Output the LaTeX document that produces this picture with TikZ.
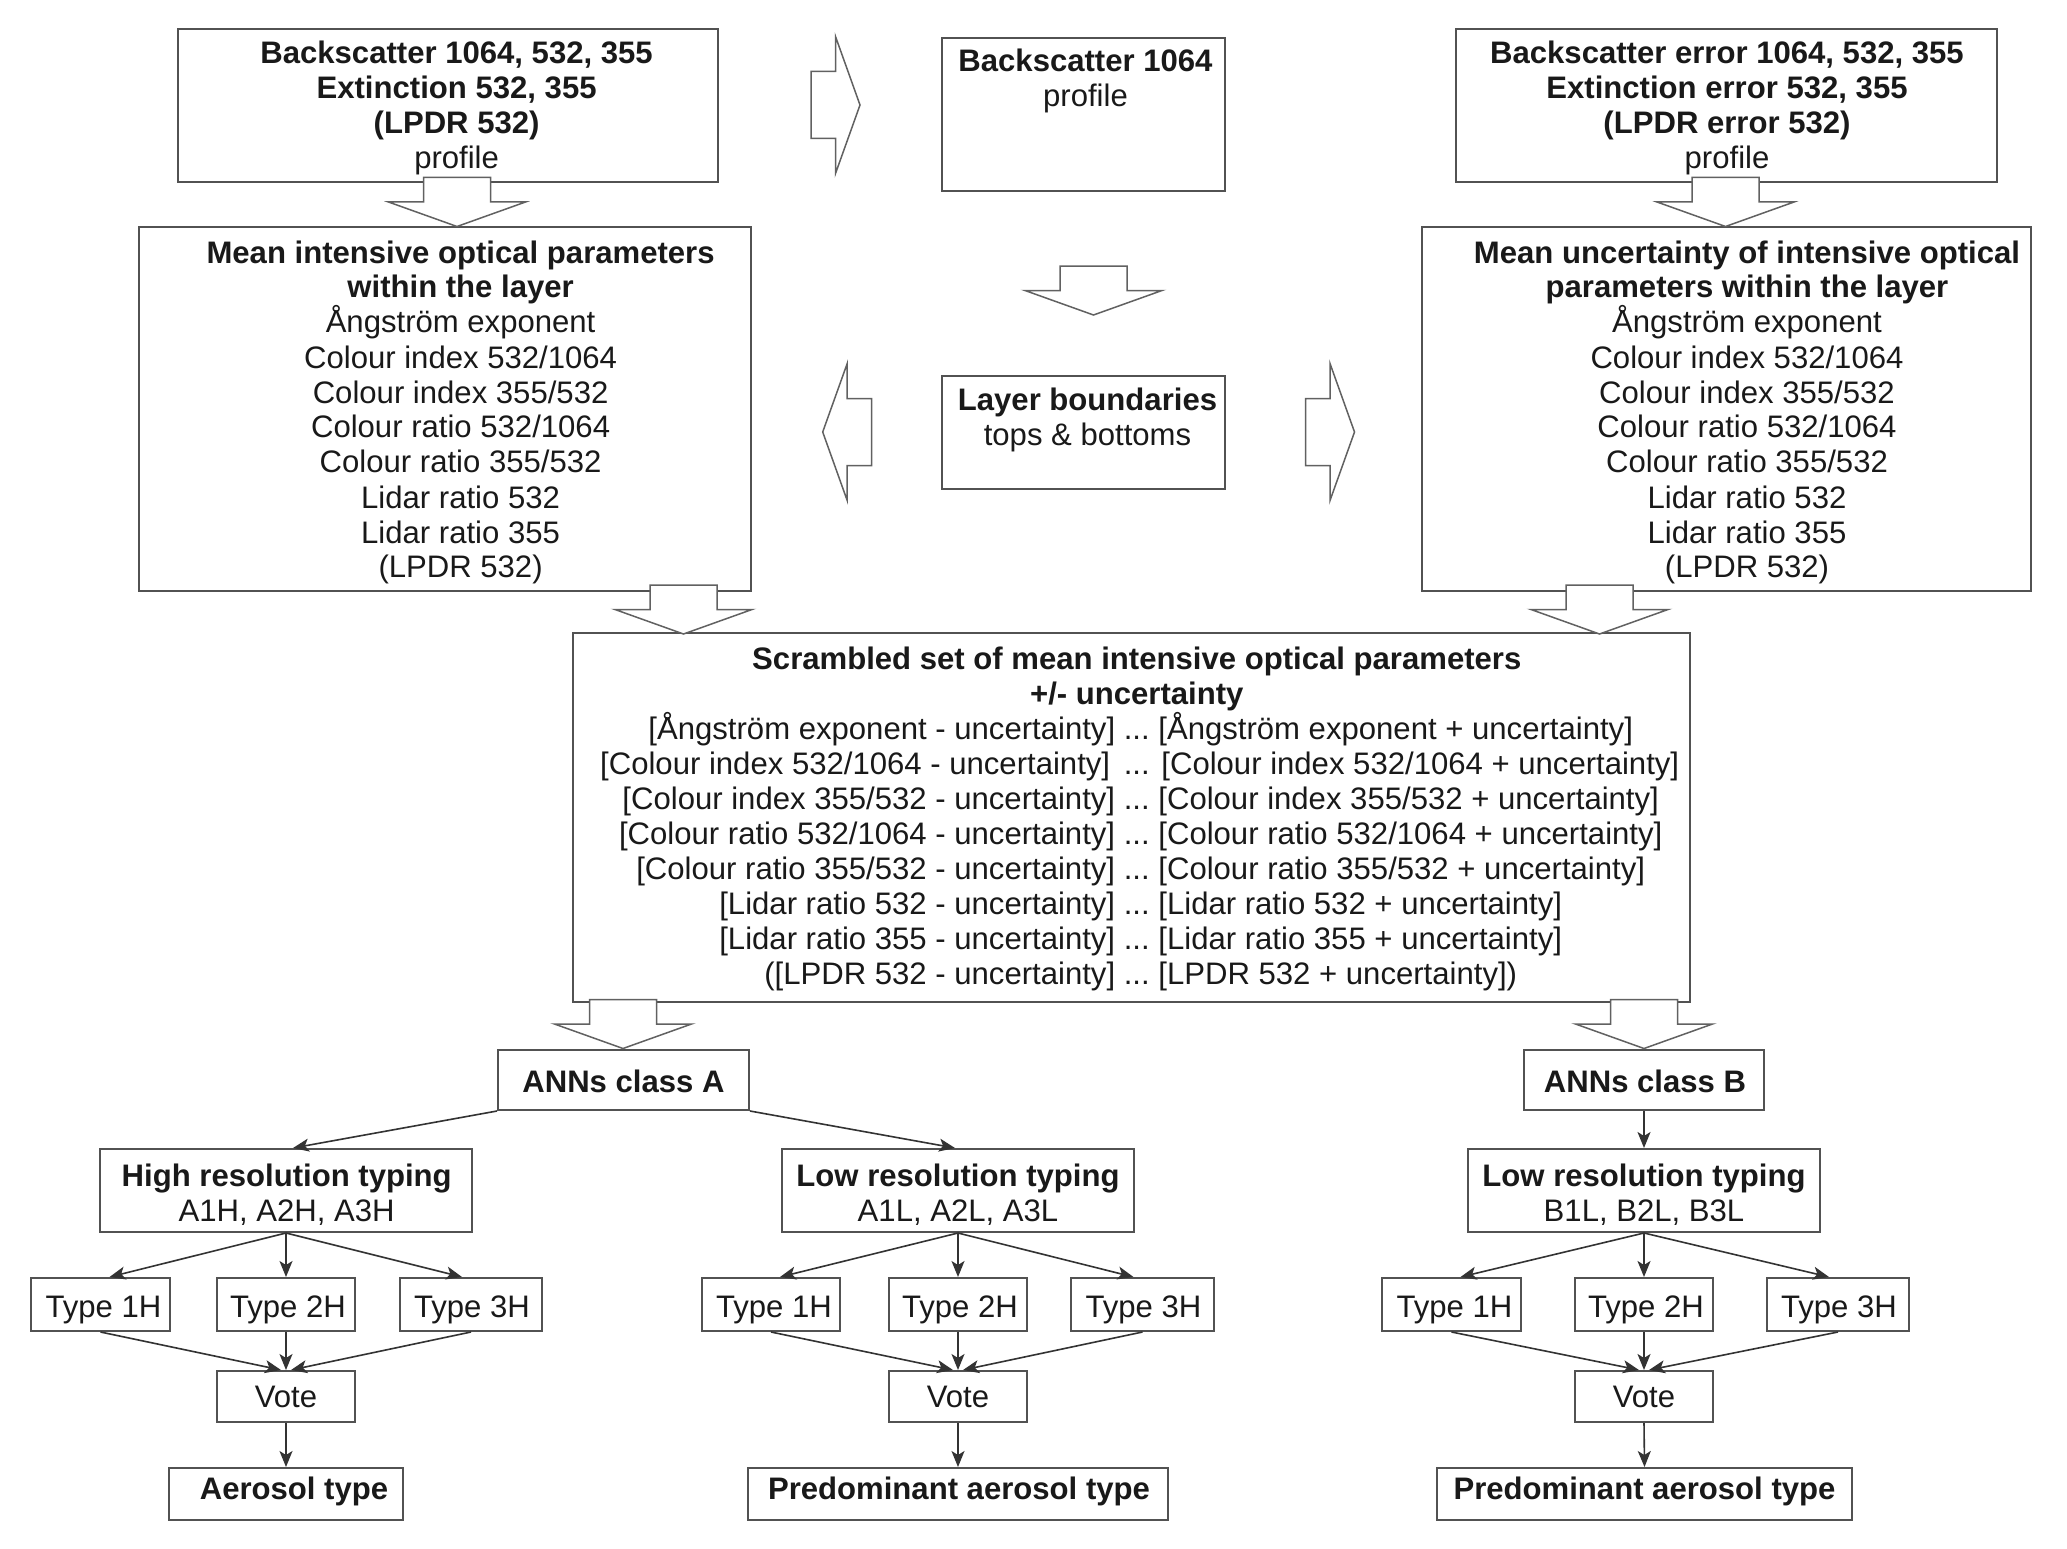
\documentclass[tikz,border=0pt]{standalone}
\usepackage{fontspec}
\setmainfont{Liberation Sans}
\usepackage{array}
\usetikzlibrary{arrows.meta,calc}
\newcommand\flowbox[5]{\node[box, minimum width={#4-#2}, minimum height={#5-#3}] (#1) at ({(#2+#4)/2},{(#3+#5)/2}) {};}
\newcommand\mlines[1]{\begin{tabular}[t]{@{}c@{}}#1\end{tabular}}
\tikzset{
  box/.style={draw=black!68, line width=2pt, inner sep=0pt, rectangle, fill=white},
  txt/.style={inner sep=0pt, anchor=base, text=black!90, font=\fontsize{31.1}{35}\selectfont},
  conn/.style={draw=black!80, line width=1.6pt, -{Stealth[length=16pt,width=13pt,inset=4pt]}},
  blockarrow/.style={draw=black!62, line width=1.5pt, fill=white, line join=miter},
  barrR/.pic={\path[blockarrow] (0,0) -- (-24.5,-68.5) -- (-24.5,-33.5) -- (-49,-33.5) -- (-49,33.5) -- (-24.5,33.5) -- (-24.5,68.5) -- cycle;},
  barrL/.pic={\path[blockarrow] (0,0) -- (24.5,-68.5) -- (24.5,-33.5) -- (49,-33.5) -- (49,33.5) -- (24.5,33.5) -- (24.5,68.5) -- cycle;},
  barrD/.pic={\path[blockarrow] (0,0) -- (-68.5,-24.5) -- (-33.5,-24.5) -- (-33.5,-49) -- (33.5,-49) -- (33.5,-24.5) -- (68.5,-24.5) -- cycle;}
}
\begin{document}
\begin{tikzpicture}[x=1pt,y=-1pt]
\fill[white] (0,0) rectangle (2067,1549);
\useasboundingbox (0,0) rectangle (2067,1549);
% ---------- boxes ----------
\flowbox{A1}{178}{29}{718}{182}
\flowbox{B1}{942}{38}{1225}{191}
\flowbox{C1}{1456}{29}{1997}{182}
\flowbox{A2}{139}{227}{751}{591}
\flowbox{LB}{942}{376}{1225}{489}
\flowbox{C2}{1422}{227}{2031}{591}
\flowbox{SC}{573}{633}{1690}{1002}
\flowbox{NA}{498}{1050}{749}{1110}
\flowbox{NB}{1524}{1050}{1764}{1110}
\flowbox{Ya}{100}{1149}{472}{1232}
\flowbox{Yb}{782}{1149}{1134}{1232}
\flowbox{Yc}{1468}{1149}{1820}{1232}
\flowbox{T1a}{31}{1278}{170}{1331}
\flowbox{T2a}{217}{1278}{355}{1331}
\flowbox{T3a}{400}{1278}{542}{1331}
\flowbox{T1b}{702}{1278}{840}{1331}
\flowbox{T2b}{889}{1278}{1027}{1331}
\flowbox{T3b}{1071}{1278}{1214}{1331}
\flowbox{T1c}{1382}{1278}{1521}{1331}
\flowbox{T2c}{1575}{1278}{1713}{1331}
\flowbox{T3c}{1767}{1278}{1909}{1331}
\flowbox{Va}{217}{1371}{355}{1422}
\flowbox{Vb}{889}{1371}{1027}{1422}
\flowbox{Vc}{1575}{1371}{1713}{1422}
\flowbox{Ra}{169}{1468}{403}{1520}
\flowbox{Rb}{748}{1468}{1168}{1520}
\flowbox{Rc}{1437}{1468}{1852}{1520}
% ---------- block arrows ----------
\pic at (860,105) {barrR};
\pic at (822.7,432) {barrL};
\pic at (1354.5,432) {barrR};
\pic at (1093.5,315) {barrD};
\pic at (457,226.5) {barrD};
\pic at (1725.5,226.5) {barrD};
\pic at (683.5,634) {barrD};
\pic at (1599.5,634) {barrD};
\pic at (623,1048.5) {barrD};
\pic at (1644,1048.5) {barrD};
% ---------- texts ----------
\node[txt] (A1t) at (456.6,64) {\mlines{\bfseries Backscatter 1064, 532, 355\\\bfseries Extinction 532, 355\\\bfseries (LPDR 532)\\profile}};
\node[txt] (B1t) at (1085.5,72) {\mlines{\bfseries Backscatter 1064\\profile}};
\node[txt] (C1t) at (1727,64) {\mlines{\bfseries Backscatter error 1064, 532, 355\\\bfseries Extinction error 532, 355\\\bfseries (LPDR error 532)\\profile}};
\node[txt] (A2t) at (460.6,263) {\mlines{\bfseries Mean intensive optical parameters\\\bfseries within the layer\\\smash{Å}ngström exponent\\Colour index 532/1064\\Colour index 355/532\\Colour ratio 532/1064\\Colour ratio 355/532\\Lidar ratio 532\\Lidar ratio 355\\(LPDR 532)}};
\node[txt] (C2t) at (1747,263) {\mlines{\bfseries Mean uncertainty of intensive optical\\\bfseries parameters within the layer\\\smash{Å}ngström exponent\\Colour index 532/1064\\Colour index 355/532\\Colour ratio 532/1064\\Colour ratio 355/532\\Lidar ratio 532\\Lidar ratio 355\\(LPDR 532)}};
\node[txt] (LBt) at (1087.5,410) {\mlines{\bfseries Layer boundaries\\tops \& bottoms}};
\node[txt, anchor=base west] (SCt) at (575,669) {%
\begin{tabular}[t]{@{}w{r}{540pt}@{\ ...\ }w{l}{540pt}@{}}
\multicolumn{2}{c}{\bfseries Scrambled set of mean intensive optical parameters}\\
\multicolumn{2}{c}{\bfseries +/- uncertainty}\\
{[}\smash{Å}ngström exponent - uncertainty] & {[}\smash{Å}ngström exponent + uncertainty]\\
{[}Colour index 532/1064 - uncertainty]\hspace*{5pt} & \hspace*{3pt}{[}Colour index 532/1064 + uncertainty]\\
{[}Colour index 355/532 - uncertainty] & {[}Colour index 355/532 + uncertainty]\\
{[}Colour ratio 532/1064 - uncertainty] & {[}Colour ratio 532/1064 + uncertainty]\\
{[}Colour ratio 355/532 - uncertainty] & {[}Colour ratio 355/532 + uncertainty]\\
{[}Lidar ratio 532 - uncertainty] & {[}Lidar ratio 532 + uncertainty]\\
{[}Lidar ratio 355 - uncertainty] & {[}Lidar ratio 355 + uncertainty]\\
({[}LPDR 532 - uncertainty] & {[}LPDR 532 + uncertainty])
\end{tabular}};
\node[txt] (NAt) at (623.5,1092) {\bfseries ANNs class A};
\node[txt] (NBt) at (1645,1092) {\bfseries ANNs class B};
\node[txt] (Yat) at (286.7,1186) {\mlines{\bfseries High resolution typing\\A1H, A2H, A3H}};
\node[txt] (Ybt) at (958,1186) {\mlines{\bfseries Low resolution typing\\A1L, A2L, A3L}};
\node[txt] (Yct) at (1644,1186) {\mlines{\bfseries Low resolution typing\\B1L, B2L, B3L}};
\foreach \g in {a,b,c}{
  \node[txt] (T1\g t) at ($(T1\g.center)+(3,12.5)$) {Type 1H};
  \node[txt] (T2\g t) at ($(T2\g.center)+(2,12.5)$) {Type 2H};
  \node[txt] (T3\g t) at ($(T3\g.center)+(1,12.5)$) {Type 3H};
  \node[txt] (V\g t) at ($(V\g.center)+(0,10.5)$) {Vote};
}
\node[txt] (Rat) at ($(Ra.center)+(8,5.5)$) {\bfseries Aerosol type};
\node[txt] (Rbt) at ($(Rb.center)+(1,5.5)$) {\bfseries Predominant aerosol type};
\node[txt] (Rct) at ($(Rc.center)+(0,5.5)$) {\bfseries Predominant aerosol type};
% ---------- connectors ----------
\draw[conn] (NA.south west) -- ($(Ya.north)+(7,0)$);
\draw[conn] (NA.south east) -- ($(Yb.north)+(-3,0)$);
\draw[conn] (NB.south) -- (Yc.north);
\foreach \g in {a,b,c}{
  \draw[conn] (Y\g.south) -- ($(T1\g.north)+(9,0)$);
  \draw[conn] (Y\g.south) -- (T2\g.north);
  \draw[conn] (Y\g.south) -- ($(T3\g.north)+(-9,0)$);
  \draw[conn] (T1\g.south) -- ($(V\g.north)+(-5,0)$);
  \draw[conn] (T2\g.south) -- (V\g.north);
  \draw[conn] (T3\g.south) -- ($(V\g.north)+(5,0)$);
  \draw[conn] (V\g.south) -- (R\g.north);
}
\end{tikzpicture}
\end{document}
